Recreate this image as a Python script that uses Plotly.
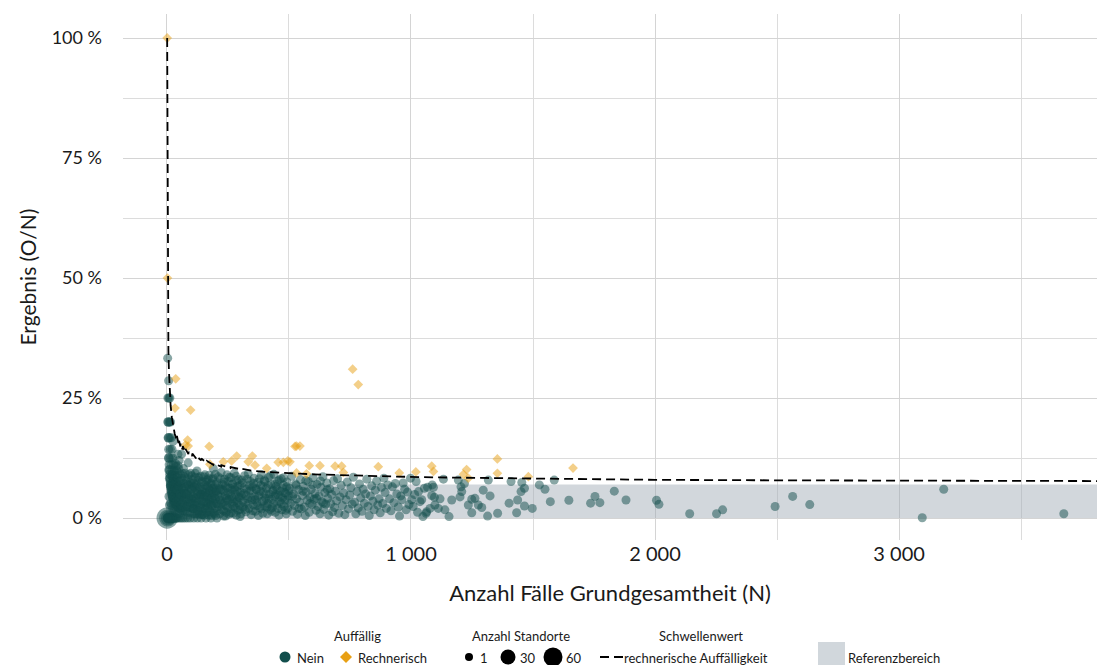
import math
import plotly.graph_objects as go

# ---------------- data ----------------
# Auffällig = Nein, single site (Anzahl Standorte = 1): N and rate in %
nein_n = [
    3, 7, 4, 8, 12, 5, 10, 15, 6, 12, 18, 7, 14, 21, 8, 16, 24, 9, 18, 27, 10, 20, 30, 11, 22, 12, 24, 13, 26, 14, 28,
    15, 16, 17, 18, 19, 20, 21, 22, 24, 26, 28, 30, 33, 36, 40, 44, 48, 53, 59, 66, 74, 83, 95, 107, 125, 145, 170, 200, 240, 300,
    23, 25, 27, 29, 31, 32, 34, 35, 35, 37, 38, 39, 41, 42, 43, 45, 45, 46, 46, 47, 49, 50, 50, 52, 55, 56, 57, 58, 60, 60,
    62, 63, 64, 68, 69, 70, 71, 72, 75, 77, 78, 80, 81, 85, 86, 87, 88, 90, 91, 93, 97, 98, 99, 100, 101, 103, 105,
    1, 2, 4, 8, 12, 16, 20, 25, 30, 36, 42, 50, 58, 66, 75, 85, 96, 110, 125, 140, 160, 180, 205,
    102, 104, 106, 108, 110, 112, 113, 115, 117, 118, 120, 121, 123, 124, 126, 128, 129, 131, 133, 134, 136, 138, 140,
    141, 143, 145, 147, 148, 150, 152, 154, 155, 157, 159, 160, 162, 164, 166, 168, 170, 172, 174, 176, 178, 180, 182,
    184, 186, 188, 190, 190, 192, 194, 196, 198, 200,
    202, 204, 206, 208, 210, 212, 214, 216, 218, 220, 222, 224, 226, 228, 230, 232, 234, 236, 238, 240, 242, 244, 246,
    248, 250, 252, 254, 256, 258, 260, 262, 264, 266, 268, 270, 272, 274, 276, 278, 280, 282, 284, 286, 288, 290, 292,
    294, 296, 298, 300, 303, 306, 309, 312, 315, 318, 321, 324, 327, 330, 333, 336, 339, 342, 345, 348,
    351, 354, 357, 360, 363, 366, 369, 372, 375, 378, 381, 384, 387, 390, 393, 396, 399, 402, 405, 408, 411, 414, 417,
    420, 423, 426, 429, 432, 435, 438, 441, 444, 447, 450, 453, 456, 459, 462, 465, 468, 471, 474, 477, 480, 483, 486,
    489, 492, 495, 498,
    503, 507, 511, 515, 519, 523, 527, 531, 535, 539, 543, 547, 551, 555, 559, 563, 567, 571, 575, 579, 583, 587, 591,
    595, 599, 603, 607, 611, 615, 619, 623, 627, 631, 635, 639, 643, 647, 651, 655, 659, 663, 667, 671, 675, 679, 683,
    687, 691, 695, 699,
    704, 709, 714, 719, 724, 729, 734, 739, 744, 749, 754, 759, 764, 769, 774, 779, 784, 789, 794, 799, 804, 809, 814,
    819, 824, 829, 834, 839, 844, 849, 854, 859, 864, 869, 874, 879, 884, 889, 894, 899,
    905, 912, 918, 924, 930, 936, 942, 948, 953, 958, 963, 968, 974, 980, 986, 992, 998, 1003, 1009, 1015, 1021, 1027,
    1031, 1037, 1044, 1049, 1055, 1062,
    1064, 1068, 1078, 1085, 1087, 1092, 1096, 1098, 1112, 1119, 1133, 1139, 1156, 1167, 1194, 1201, 1205, 1208, 1219,
    1235, 1249, 1249, 1262, 1276, 1290, 1296, 1314, 1317, 1324, 1355, 1402, 1410, 1433, 1437, 1451, 1454, 1465, 1465,
    1497, 1526, 1549, 1571, 1587,
    1647, 1736, 1754, 1774, 1833, 1881, 2006, 2016, 2142, 2252, 2277, 2492, 2564, 2634, 3095, 3183, 3675,
]
nein_pct = [
    33.3, 28.6, 25, 25, 25, 20, 20, 20, 16.7, 16.7, 16.7, 14.3, 14.3, 14.3, 12.5, 12.5, 12.5, 11.1, 11.1, 11.1, 10, 10, 10, 9.1, 9.1, 8.3, 8.3, 7.7, 7.7, 7.1, 7.1,
    6.7, 6.3, 5.9, 5.6, 5.3, 5.0, 4.8, 4.5, 4.2, 3.8, 3.6, 3.3, 3.0, 2.8, 2.5, 2.3, 2.1, 1.9, 1.7, 1.5, 1.4, 1.2, 1.1, 0.9, 0.8, 0.7, 0.6, 0.5, 0.4, 0.3,
    8.7, 16, 7.4, 6.9, 9.7, 6.3, 8.8, 5.7, 11.4, 10.8, 7.9, 5.1, 9.8, 7.1, 4.7, 13.3, 8.9, 6.5, 10.9, 4.3, 10.2, 6.0, 12, 3.8, 9.1, 7.1, 5.3, 3.4, 8.3, 13.3,
    6.5, 4.8, 3.1, 10.3, 7.2, 5.7, 4.2, 2.8, 9.3, 6.5, 5.1, 3.8, 2.5, 8.2, 7.0, 11.5, 5.7, 4.4, 3.3, 2.2, 9.3, 7.1, 6.1, 5.0, 4.0, 3.0, 1.9,
    0, 0, 0, 0, 0, 0, 0, 0, 0, 0, 0, 0, 0, 0, 0, 0, 0, 0, 0, 0, 0, 0, 0,
    8.8, 6.7, 3.8, 1.9, 7.3, 5.4, 2.7, 0.9, 8.5, 4.2, 6.7, 2.5, 9.8, 5.6, 3.2, 1.6, 7.8, 4.6, 0.8, 6.0, 2.2, 8.7, 5.0,
    3.6, 1.4, 7.6, 4.8, 2.0, 6.0, 3.3, 0.6, 9.0, 5.1, 2.5, 7.5, 4.3, 1.2, 6.6, 3.0, 8.2, 5.2, 1.7, 4.0, 7.0, 2.8, 0.5,
    5.4, 8.1, 3.7, 1.1, 10.3, 6.3, 4.6, 2.0, 9.1, 5.5,
    3.0, 7.4, 1.5, 4.8, 8.6, 2.4, 6.1, 0.9, 3.7, 5.9, 9.5, 1.8, 4.4, 7.0, 2.7, 0.4, 5.6, 8.1, 3.4, 6.7, 1.2, 4.1, 9.0,
    2.2, 5.2, 7.6, 0.8, 3.9, 6.2, 1.9, 8.4, 4.5, 2.9, 5.8, 7.1, 1.0, 3.3, 9.3, 6.4, 2.1, 4.9, 0.6, 7.8, 3.6, 5.5, 1.6,
    8.0, 4.2, 2.6, 6.9, 0.9, 4.7, 7.3, 2.3, 5.1, 8.8, 3.1, 1.3, 6.0, 4.0, 9.2, 2.0, 5.7, 7.6, 0.7, 3.8,
    6.5, 2.7, 8.3, 4.4, 1.4, 5.9, 3.2, 7.4, 0.5, 4.9, 2.1, 6.8, 9.0, 3.5, 1.0, 5.3, 7.9, 2.5, 4.1, 6.2, 0.9, 3.0, 8.5,
    5.0, 1.8, 7.0, 3.9, 2.2, 5.8, 9.1, 4.5, 1.2, 6.6, 2.9, 7.7, 4.8, 0.6, 3.4, 5.6, 8.2, 1.7, 4.2, 6.9, 2.4, 3.7, 5.2,
    0.9, 7.5, 2.0, 4.6,
    6.2, 3.1, 8.7, 1.4, 5.0, 2.6, 7.1, 4.0, 0.8, 5.9, 3.3, 8.0, 1.9, 4.7, 6.6, 2.3, 0.5, 5.4, 3.7, 7.6, 1.2, 4.3, 6.0,
    2.8, 8.4, 3.9, 5.1, 1.6, 7.0, 2.4, 4.6, 0.9, 6.4, 3.4, 8.6, 1.8, 5.3, 2.9, 7.3, 4.1, 0.6, 6.1, 3.0, 4.9, 1.3, 7.8,
    2.2, 5.6, 3.6, 8.2,
    1.0, 4.4, 6.8, 2.6, 5.2, 0.7, 3.8, 7.5, 1.9, 4.8, 6.3, 2.9, 8.5, 3.3, 0.9, 5.5, 2.1, 7.1, 4.2, 1.4, 6.0, 3.1, 5.0,
    8.1, 2.4, 0.5, 4.6, 6.7, 3.5, 1.7, 5.8, 7.7, 2.7, 4.0, 1.1, 6.4, 3.0, 8.3, 5.3, 2.0,
    6.9, 4.0, 1.5, 6.5, 3.2, 7.2, 5.0, 2.3, 0.4, 4.6, 3.8, 7.3, 6.0, 1.7, 5.4, 2.8, 8.3, 3.8, 2.4, 4.9, 7.6, 1.2,
    5.5, 3.4, 3.8, 0.3, 6.2, 1.0,
    1.3, 6.4, 2.0, 4.7, 6.9, 6.4, 4.3, 2.7, 2.0, 4.0, 8.1, 1.7, 0.3, 3.75, 7.9, 4.4, 6.5, 5.5, 7.2,
    2.7, 3.9, 1.1, 4.1, 2.7, 2.2, 5.8, 0.4, 7.9, 4.6, 1.0, 3.1, 7.6, 1.1, 3.75, 5.5, 7.4, 2.5, 6.2,
    2.0, 6.9, 6.0, 3.4, 7.9,
    3.7, 3.1, 4.5, 3.2, 5.6, 3.75, 3.7, 2.85, 0.9, 0.9, 1.7, 2.4, 4.5, 2.8, 0.06, 6.0, 0.9,
]

# further single-site points inside the dense cluster (N < 700)
dicht_n = [
    16, 18, 19, 21, 23, 24, 26, 27, 29, 31, 33, 34, 36, 37, 39, 41, 43, 44, 47, 48, 51, 52, 54, 56, 58, 61, 63, 65,
    67, 70, 72, 74, 77, 79, 82, 84, 87, 89, 92, 95, 98,
    103, 106, 109, 111, 114, 116, 119, 122, 125, 127, 130, 132, 135, 137, 139, 142, 144, 146, 149, 151, 153, 156,
    158, 161, 163, 165, 167, 169, 171, 173, 175, 177, 179, 181, 183, 185, 187, 189, 191, 193, 195, 197, 199, 203,
    207, 211, 215, 219, 223, 227, 231, 235, 239, 243, 247, 251, 255, 259, 263, 267, 271, 275, 279, 283, 287, 291,
    295, 299,
    302, 307, 311, 316, 320, 325, 329, 334, 338, 343, 347, 352, 356, 361, 365, 370, 374, 379, 383, 388, 392, 397,
    401, 406, 410, 415, 419, 424, 428, 433, 437, 442, 446, 451, 455, 460, 464, 469, 473, 478, 482, 487, 491, 496,
    501, 515, 529, 541, 557, 569, 585, 597, 613, 629, 641, 657,
]
dicht_pct = [
    3.1, 8.9, 2.6, 7.2, 4.3, 1.9, 5.5, 2.9, 8.1, 1.6, 6.1, 4.0, 7.3, 1.4, 3.4, 5.9, 8.4, 1.1, 6.7, 3.9, 7.6, 1.0,
    5.1, 2.7, 7.8, 4.6, 9.3, 2.2, 6.0, 3.7, 8.6, 5.1, 1.8, 7.7, 4.9, 2.4, 6.8, 9.0, 4.0, 7.4, 2.9,
    6.0, 8.0, 4.4, 2.0, 6.4, 9.3, 3.5, 7.1, 5.0, 1.5, 8.4, 3.9, 6.5, 2.7, 4.9, 7.3, 0.7, 5.6, 3.1, 8.6, 4.4, 6.8,
    1.9, 5.4, 3.3, 7.9, 4.6, 2.1, 6.3, 8.9, 3.6, 5.8, 1.3, 7.2, 4.1, 2.6, 6.1, 8.4, 3.1, 5.2, 0.9, 7.0, 4.0, 5.7,
    2.9, 6.9, 4.3, 8.2, 3.1, 5.9, 1.5, 7.4, 4.6, 2.6, 6.3, 3.6, 8.5, 5.0, 1.1, 7.0, 4.0, 2.4, 5.9, 8.7, 3.2, 6.6,
    4.4, 1.8,
    5.3, 7.9, 3.5, 6.3, 1.8, 4.7, 8.1, 2.9, 6.8, 4.3, 5.7, 1.5, 7.2, 3.8, 6.1, 2.6, 4.5, 8.2, 5.6, 1.9, 6.6, 3.6,
    7.6, 5.0, 2.3, 6.8, 4.0, 8.8, 1.4, 5.5, 3.1, 7.1, 4.9, 6.0, 2.0, 7.9, 4.4, 3.0, 6.2, 8.4, 5.3, 1.6, 6.5, 3.8,
    5.7, 4.5, 6.8, 2.0, 5.6, 7.8, 3.0, 6.9, 4.1, 7.7, 3.1, 5.9,
]

# Auffällig = Nein, several sites
multi_n = [1, 3, 5, 8, 13, 20, 28, 38, 5, 6, 8, 10, 12, 15, 9, 11]
multi_pct = [0, 0, 0, 0, 0, 0, 0, 0, 20, 16.7, 12.5, 10, 8.3, 6.7, 4.5, 2.7]
multi_standorte = [70, 40, 25, 12, 6, 4, 3, 2, 3, 3, 4, 5, 4, 3, 2, 2]

# Auffällig = Rechnerisch
rech_n = [1, 2, 36, 33, 97, 76, 85, 87, 173, 176, 231, 265, 286, 333, 350, 361, 409, 456, 477, 495, 504, 525, 531,
          545, 531, 572, 583, 627, 689, 716, 723, 761, 784, 866, 952, 1020, 1085, 1092, 1215, 1228, 1235, 1354,
          1354, 1481, 1664]
rech_pct = [100, 50, 29, 22.9, 22.5, 15.2, 16.25, 15, 14.9, 11.2, 11.7, 11.9, 12.9, 11.7, 12.9, 11.0, 10.35, 11.6,
            11.6, 11.9, 11.7, 14.9, 15, 15, 9.4, 9.2, 10.9, 10.9, 10.8, 10.8, 9.5, 31, 27.8, 10.7, 9.4, 9.6, 10.8,
            9.7, 9.1, 10.1, 8.3, 12.3, 9.3, 8.6, 10.4]

# Schwellenwert: rechnerische Auffälligkeit
schwelle_n = [1, 2, 3, 4, 5, 6, 8, 10, 12, 15, 20, 26, 32, 38, 40, 41, 47, 48, 55, 56, 64, 65, 75, 76, 88, 89,
              103, 104, 120, 121, 140, 141, 163, 164, 190, 191, 222, 223, 260, 261, 306, 307, 350, 402, 450,
              511, 600, 700, 800, 900, 1050, 1200, 1400, 1600, 2000, 2500, 3000, 3811]
schwelle_pct = [100, 75, 55, 45, 38, 35, 31, 28, 26, 23.5, 21, 19, 17.5, 16.6, 16.3, 17.1, 15.6, 16.5, 14.9, 15.6,
                14.3, 15.0, 13.8, 14.4, 13.3, 13.8, 12.9, 13.4, 12.4, 12.9, 12.0, 12.4, 11.5, 11.9, 11.1, 11.4,
                10.7, 11.0, 10.4, 10.6, 10.1, 10.25, 9.85, 9.6, 9.45, 9.3, 9.1, 8.95, 8.8, 8.7, 8.5, 8.4, 8.25,
                8.1, 7.95, 7.85, 7.75, 7.7]

# Referenzbereich (in %)
ref_low, ref_high = 0, 7.0

y_tickvals = [0, 25, 50, 75, 100]
y_ticktext = ["0 %", "25 %", "50 %", "75 %", "100 %"]
x_tickvals = [0, 1000, 2000, 3000]
x_ticktext = ["0", "1 000", "2 000", "3 000"]

# ---------------- style ----------------
TEAL = "rgb(18,78,76)"
ORANGE = "rgb(232,160,20)"
FONT = "Lato, 'Open Sans', sans-serif"
X_RANGE = [-180, 3811]
Y_RANGE = [-4.58, 105]
ML, MR, MT, MB = 123, 0, 14, 125
W, H = 1097, 665
PW, PH = W - ML - MR, H - MT - MB


def size_of(n):
    # area grows linearly with number of sites
    return math.sqrt(81 + (400 - 81) * (n - 1) / 59)


def px(xp):
    return (xp - ML) / PW


def py(yp):
    return (H - MB - yp) / PH


fig = go.Figure()

fig.add_shape(type="rect", xref="x", yref="y", x0=0, x1=X_RANGE[1], y0=ref_low, y1=ref_high,
              fillcolor="rgba(160,172,182,0.48)", line_width=0, layer="between")

all_n = multi_n + nein_n + dicht_n
all_pct = multi_pct + nein_pct + dicht_pct
all_size = [size_of(s) for s in multi_standorte] + [size_of(1)] * (len(nein_n) + len(dicht_n))

fig.add_trace(go.Scatter(
    x=all_n, y=all_pct, mode="markers",
    marker=dict(color=TEAL, opacity=0.5, line_width=0, size=all_size),
    showlegend=False, hoverinfo="skip"))

fig.add_trace(go.Scatter(
    x=rech_n, y=rech_pct, mode="markers",
    marker=dict(color=ORANGE, opacity=0.5, symbol="diamond", size=7.5, line_width=0),
    showlegend=False, hoverinfo="skip"))

fig.add_trace(go.Scatter(
    x=schwelle_n, y=schwelle_pct, mode="lines",
    line=dict(color="black", width=1.8, dash="9px,5px"),
    showlegend=False, hoverinfo="skip"))

# ---------------- manual legend ----------------
LF = dict(family=FONT, size=13, color="#1a1a1a")
ann = []


def text(xp, yp, s, anchor="left"):
    ann.append(dict(x=px(xp), y=py(yp), xref="paper", yref="paper", text=s, showarrow=False,
                    xanchor=anchor, yanchor="middle", font=LF))


def circle(xp, yp, d, color):
    fig.add_shape(type="circle", xref="paper", yref="paper", xsizemode="pixel", ysizemode="pixel",
                  xanchor=px(xp), yanchor=py(yp), x0=-d / 2, x1=d / 2, y0=-d / 2, y1=d / 2,
                  fillcolor=color, line_width=0)


text(357, 636, "Auffällig", "center")
circle(285, 657, 11, TEAL)
text(295, 658, "Nein")
fig.add_shape(type="path", xref="paper", yref="paper", xsizemode="pixel", ysizemode="pixel",
              xanchor=px(346), yanchor=py(657), path="M 0 6 L 6 0 L 0 -6 L -6 0 Z",
              fillcolor=ORANGE, line_width=0)
text(356, 658, "Rechnerisch")

text(521, 636, "Anzahl Standorte", "center")
for cx, d, lab, tx in [(469, 8, "1", 478), (508, 15, "30", 518), (553, 19, "60", 564)]:
    circle(cx, 657, d, "black")
    text(tx, 658, lab)

text(701, 636, "Schwellenwert", "center")
fig.add_shape(type="line", xref="paper", yref="paper", x0=px(600), x1=px(623), y0=py(657), y1=py(657),
              line=dict(color="black", width=2, dash="9px,5px"))
text(622, 658, "rechnerische Auffälligkeit")

fig.add_shape(type="rect", xref="paper", yref="paper", x0=px(818), x1=px(845), y0=py(642), y1=py(668),
              fillcolor="#d1d7dc", line_width=0)
text(846, 658, "Referenzbereich")

fig.update_layout(
    width=W, height=H, margin=dict(l=ML, r=MR, t=MT, b=MB),
    paper_bgcolor="white", plot_bgcolor="white",
    font=dict(family=FONT, color="#1a1a1a"),
    annotations=ann,
    xaxis=dict(range=X_RANGE, tickvals=x_tickvals, ticktext=x_ticktext, showgrid=True,
               gridcolor="#d4d4d4", gridwidth=1.4, zeroline=False, showline=False, ticks="",
               minor=dict(tickvals=[500, 1500, 2500, 3500], showgrid=True, gridcolor="#dcdcdc", gridwidth=1.1),
               tickfont=dict(size=20, family=FONT, color="#1a1a1a"),
               title=dict(text="Anzahl Fälle Grundgesamtheit (N)", font=dict(size=22, family=FONT, color="#1a1a1a"),
                          standoff=21)),
    yaxis=dict(range=Y_RANGE, tickvals=y_tickvals, ticktext=y_ticktext, showgrid=True,
               gridcolor="#d4d4d4", gridwidth=1.4, zeroline=False, showline=False, ticks="",
               ticklabelstandoff=20,
               minor=dict(tickvals=[12.5, 37.5, 62.5, 87.5], showgrid=True, gridcolor="#dcdcdc", gridwidth=1.1),
               tickfont=dict(size=18, family=FONT, color="#1a1a1a"),
               title=dict(text="Ergebnis (O/N)", font=dict(size=21, family=FONT, color="#1a1a1a"), standoff=9)),
)

fig.write_html("out.html", config={"displayModeBar": False},
               post_script="document.body.style.margin='0';document.body.style.overflow='hidden';")
